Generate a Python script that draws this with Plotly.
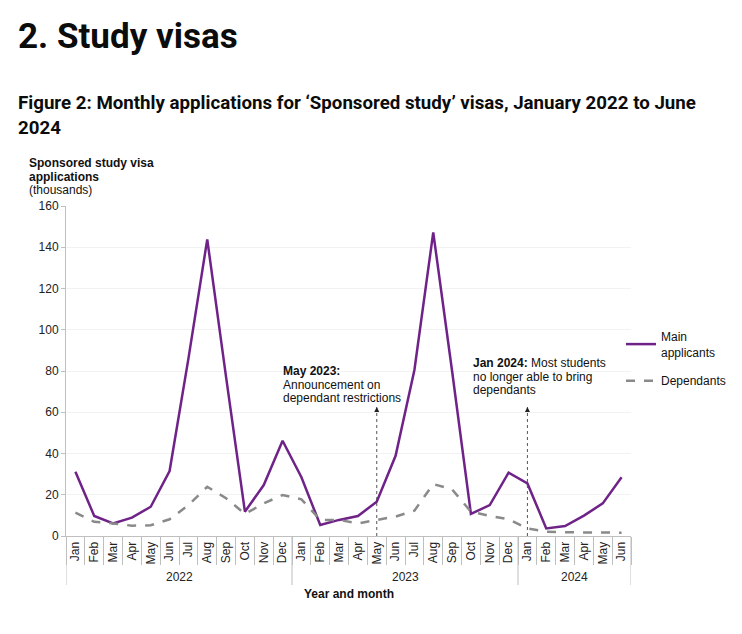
import plotly.graph_objects as go

# ---- data ----
years = ["2022"] * 12 + ["2023"] * 12 + ["2024"] * 6
months = ["Jan", "Feb", "Mar", "Apr", "May", "Jun", "Jul", "Aug", "Sep", "Oct", "Nov", "Dec",
          "Jan", "Feb", "Mar", "Apr", "May", "Jun", "Jul", "Aug", "Sep", "Oct", "Nov", "Dec",
          "Jan", "Feb", "Mar", "Apr", "May", "Jun"]
main_applicants = [31.2, 9.7, 6.1, 8.9, 14.2, 31.5, 86.0, 143.8, 77.0, 11.8, 24.7, 46.2,
                   28.5, 5.3, 7.8, 9.7, 16.6, 38.9, 80.5, 147.2, 80.0, 10.7, 15.0, 30.7,
                   25.5, 3.7, 4.8, 9.9, 15.8, 28.5]
dependants = [11.3, 6.9, 6.1, 5.0, 5.2, 8.1, 15.0, 23.9, 18.3, 10.7, 15.8, 19.9,
              17.8, 7.8, 7.8, 6.1, 7.8, 9.4, 12.3, 25.2, 22.6, 11.8, 9.7, 8.1,
              3.7, 2.1, 1.8, 1.8, 1.6, 1.6]
y_ticks = [0, 20, 40, 60, 80, 100, 120, 140, 160]

# events: (category index, arrow top value, text lines)
events = [
    (16, 62.5, ["<b>May 2023:</b>", "Announcement on", "dependant restrictions"]),
    (24, 62.5, ["<b>Jan 2024:</b> Most students", "no longer able to bring", "dependants"]),
]
event_text_pos = [(283, 371), (473, 363)]  # page pixel (left, first-line centre)

PURPLE = "#6f2388"
GREY = "#8a8a8a"
AXIS = "#bfbfbf"
FONT = "Liberation Sans"

# page geometry (body margin of 8px)
OFF = 8
PL, PT, PW, PH = 66 - OFF, 206 - OFF, 565, 330
W, H = 734, 626


def px(x):
    return (x - OFF - PL) / PW


def py(y):
    return (PT + PH - (y - OFF)) / PH


idx = list(range(len(months)))

fig = go.Figure()
fig.add_trace(go.Scatter(x=idx, y=main_applicants, mode="lines",
                         name="Main<br>applicants", legendgroup="a",
                         line=dict(color=PURPLE, width=2.5)))
fig.add_trace(go.Scatter(x=idx, y=dependants, mode="lines",
                         name="Dependants", legendgroup="b",
                         line=dict(color=GREY, width=2.5, dash="dash")))


def add_lines(x, y0, lines, step, size=12, family=FONT, color="#111111"):
    for i, t in enumerate(lines):
        fig.add_annotation(xref="paper", yref="paper", x=px(x), y=py(y0 + i * step),
                           text=t, showarrow=False, xanchor="left", yanchor="middle",
                           align="left", font=dict(family=family, size=size, color=color))


for (ei, top, lines), (tx, ty) in zip(events, event_text_pos):
    fig.add_shape(type="line", xref="x", yref="y", x0=ei, x1=ei, y0=0, y1=top,
                  line=dict(color="#555555", width=1, dash="dot"))
    fig.add_annotation(xref="x", yref="y", x=ei, y=top, text="", showarrow=True,
                       arrowhead=2, arrowsize=1, arrowwidth=1, arrowcolor="#222222",
                       ax=0, ay=6, standoff=0)
    add_lines(tx - 2, ty, lines, 13.7)

# year groups: dividers and labels
unique_years = list(dict.fromkeys(years))
for yr in unique_years:
    members = [i for i, v in enumerate(years) if v == yr]
    first, last = members[0], members[-1]
    fig.add_annotation(xref="x", yref="paper", x=(first + last) / 2, y=py(577), text=yr,
                       showarrow=False, xanchor="center", yanchor="middle",
                       font=dict(family=FONT, size=12, color="#222222"))
    fig.add_shape(type="line", xref="x", yref="paper", x0=first - 0.5, x1=first - 0.5,
                  y0=0, y1=py(585), line=dict(color=AXIS, width=1))
fig.add_shape(type="line", xref="x", yref="paper", x0=len(months) - 0.5, x1=len(months) - 0.5,
              y0=0, y1=py(585), line=dict(color=AXIS, width=1))

# titles
add_lines(16, 36, ["<b>2. Study visas</b>"], 0, size=35, family="Roboto", color="#0b0c0c")
add_lines(16, 103, ["<b>Figure 2: Monthly applications for ‘Sponsored study’ visas, January 2022 to June</b>",
                    "<b>2024</b>"], 25, size=18.7, family="Roboto", color="#0b0c0c")
add_lines(27, 163, ["<b>Sponsored study visa</b>", "<b>applications</b>", "(thousands)"], 13.6)
fig.add_annotation(xref="paper", yref="paper", x=px(349), y=py(594), text="<b>Year and month</b>",
                   showarrow=False, xanchor="center", yanchor="middle",
                   font=dict(family=FONT, size=12, color="#111111"))

fig.update_layout(
    width=W, height=H,
    margin=dict(l=PL, r=W - PL - PW, t=PT, b=H - PT - PH, autoexpand=False),
    paper_bgcolor="white", plot_bgcolor="white",
    font=dict(family=FONT, size=12, color="#222222"),
    showlegend=True,
    legend=dict(x=px(621), y=py(322), xanchor="left", yanchor="top",
                font=dict(family=FONT, size=12, color="#111111"), itemwidth=30,
                bgcolor="rgba(0,0,0,0)", tracegroupgap=10, traceorder="grouped"),
    xaxis=dict(range=[-0.5, len(months) - 0.5], tickmode="array", tickvals=idx, ticktext=months,
               tickangle=-90, ticks="", showline=True, linecolor=AXIS,
               showgrid=False, zeroline=False,
               tickfont=dict(family=FONT, size=12, color="#222222"),
               minor=dict(tickmode="array", tickvals=[i - 0.5 for i in idx + [len(months)]],
                          ticks="outside", ticklen=28, tickcolor=AXIS, tickwidth=1,
                          showgrid=False)),
    yaxis=dict(range=[0, 160], tickvals=y_ticks, showline=True, linecolor=AXIS,
               ticks="outside", ticklen=4, tickcolor=AXIS,
               gridcolor="#f2f2f2", zeroline=False,
               tickfont=dict(family=FONT, size=12, color="#222222")),
)

fig.write_html("out.html")
